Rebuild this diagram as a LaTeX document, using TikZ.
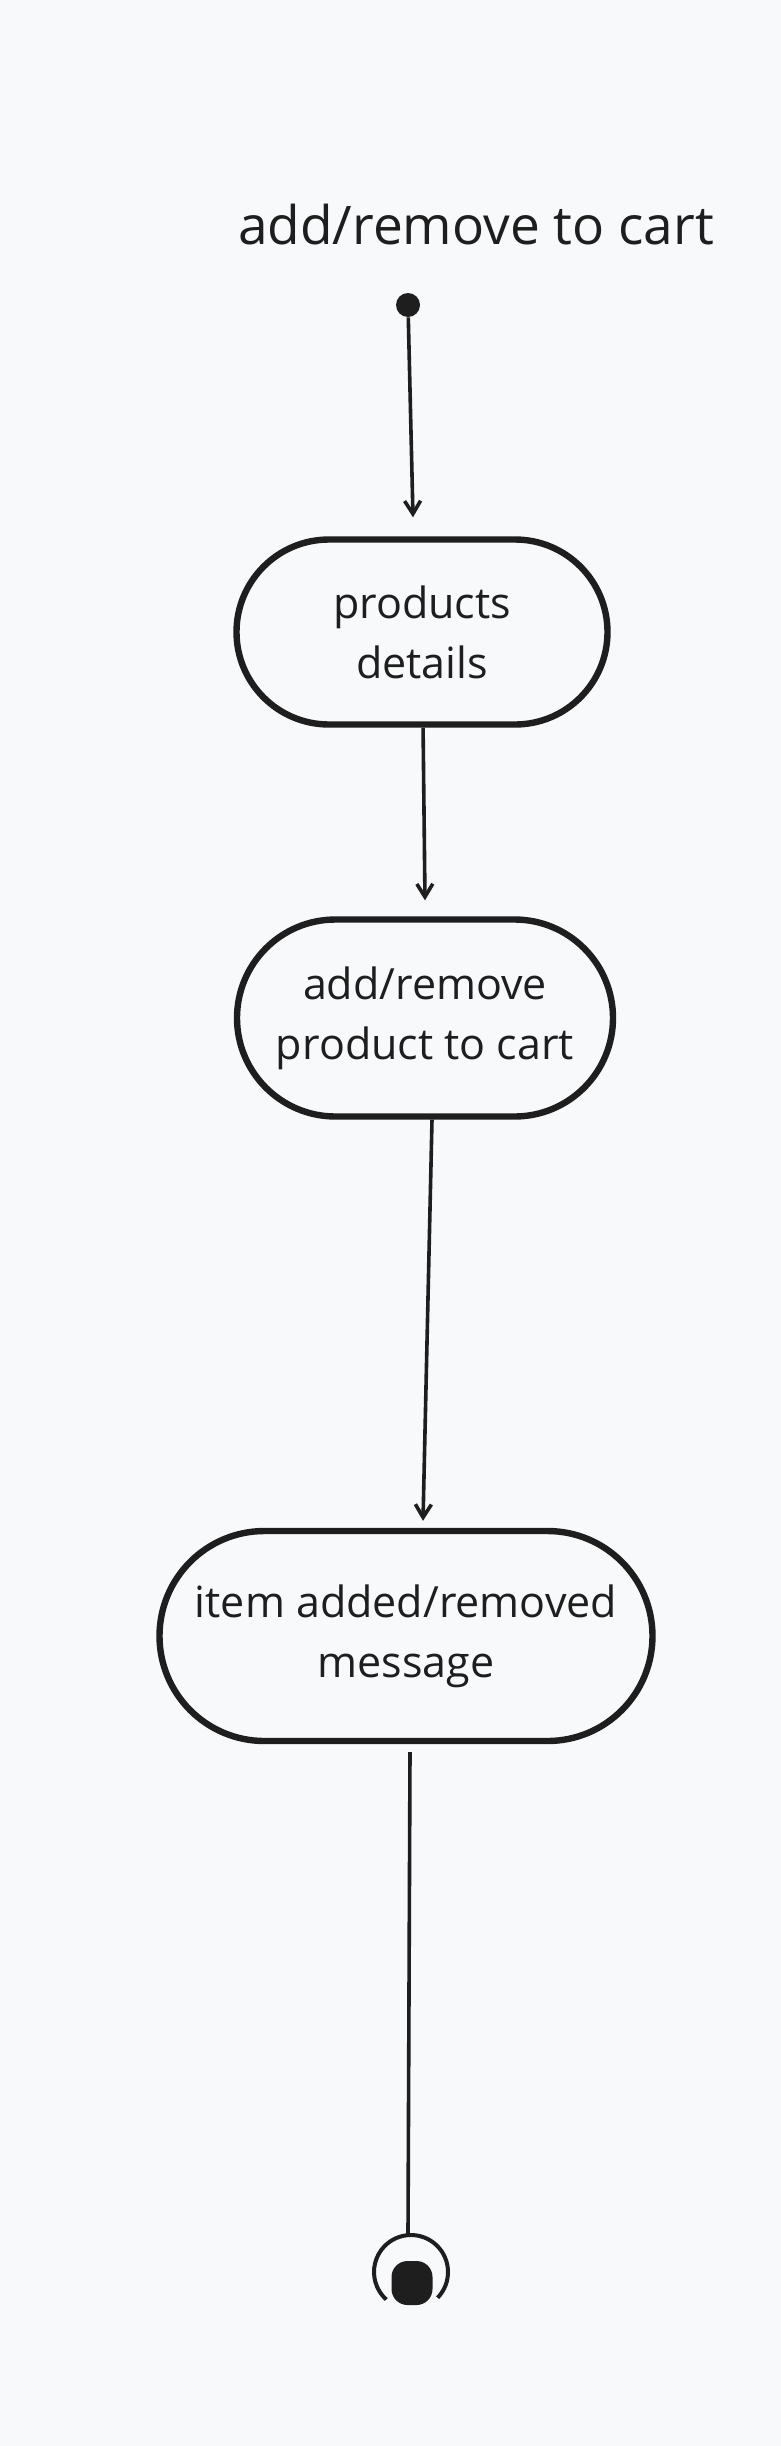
\documentclass[tikz,border=0pt]{standalone}
\usepackage{fontspec}
\setmainfont{Open Sans}
\usetikzlibrary{arrows.meta, shapes.misc}
\definecolor{bg}{HTML}{F8F9FB}
\definecolor{ink}{HTML}{1E1E1E}

\begin{document}
\begin{tikzpicture}[x=0.5pt, y=-0.5pt,
  state/.style={draw=ink, line width=3.2pt, rounded rectangle, align=center,
    font=\fontsize{21.5}{30}\selectfont, text=ink, inner sep=0pt},
  arr/.style={draw=ink, line width=1.8pt, -{Straight Barb[length=6.5pt, width=8pt]}}]
\fill[bg] (0,0) rectangle (781,2446);
\useasboundingbox (0,0) rectangle (781,2446);
\node[anchor=base, text=ink, font=\fontsize{26.6}{30}\selectfont] (title) at (476,244) {add/remove to cart};
\node[fill=ink, circle, minimum size=12pt, inner sep=0pt] (start) at (408,305) {};
\node[state, minimum width=185.5pt, minimum height=92.5pt] (details) at (422,632) {products\\details};
\node[state, minimum width=188pt, minimum height=98.5pt] (addrem) at (425,1018) {add/remove\\product to cart};
\node[state, minimum width=246.5pt, minimum height=105pt] (msg) at (406,1636) {item added/removed\\message};
\node[circle, minimum size=38pt, inner sep=0pt] (final) at (411,2272) {};
\node[fill=ink, rounded corners=8pt, minimum width=20.5pt, minimum height=22pt, inner sep=0pt] (finaldot) at (412,2283) {};
\draw[ink, line width=2pt] ([shift={(-44:18.5pt)}]final.center) arc (-44:228:18.5pt);
\draw[arr] (start) -- ([xshift=-4.5pt, yshift=9.5pt]details.north);
\draw[arr] (details) -- ([yshift=8pt]addrem.north);
\draw[arr] ([xshift=3.5pt]addrem.south) -- ([xshift=8.5pt, yshift=3.5pt]msg.north);
\draw[ink, line width=1.8pt] ([xshift=2pt, yshift=-4pt]msg.south) -- ([xshift=-1.5pt]final.north);
\end{tikzpicture}
\end{document}
